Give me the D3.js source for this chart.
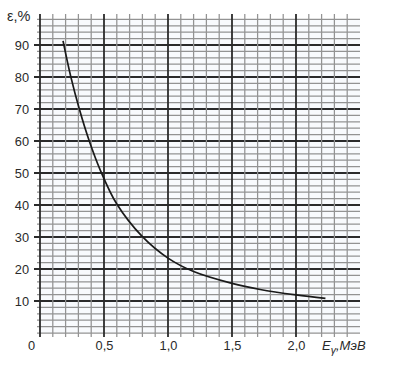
<!DOCTYPE html>
<html>
<head>
<meta charset="utf-8">
<script src="https://cdn.jsdelivr.net/npm/d3@7"></script>
<style>
  html, body { margin: 0; padding: 0; background: #ffffff; }
  svg { display: block; }
</style>
</head>
<body>
<svg id="chart" width="396" height="367"></svg>
<script>
// ---- data ----
const energy = [0.18, 0.24, 0.31, 0.385, 0.47, 0.6, 0.8, 1.0, 1.2, 1.5, 1.72, 2.0, 2.23];
const efficiency = [91.3, 80.2, 69.6, 60, 51, 40.3, 30.1, 23.4, 19.2, 15.5, 13.6, 11.9, 10.8];
const yTickValues = [10, 20, 30, 40, 50, 60, 70, 80, 90];
const xTickValues = [0, 0.5, 1.0, 1.5, 2.0];
const xTickLabels = ["0", "0,5", "1,0", "1,5", "2,0"];
const yAxisTitle = "ε,%";
const xAxisTitleMain = "E";
const xAxisTitleSub = "γ";
const xAxisTitleRest = ",МэВ";

// ---- layout ----
const svg = d3.select("#chart");
const x = d3.scaleLinear().domain([0, 2.5]).range([40, 360]);
const y = d3.scaleLinear().domain([0, 98]).range([333, 19.4]);

const minorColor = "#939393";
const majorColor = "#2b2b2b";
const textColor = "#2a2a2a";

// light paper fill
svg.append("rect")
  .attr("x", x(0)).attr("y", y(98))
  .attr("width", x(2.5) - x(0)).attr("height", y(0) - y(98))
  .attr("fill", "#f8fafd");

// horizontal grid lines every 2 %
const hVals = d3.range(0, 99, 2);
svg.append("g").selectAll("line").data(hVals).join("line")
  .attr("x1", d => (d % 10 === 0 && d > 0) ? x(0) - 6 : x(0) - 3)
  .attr("x2", x(2.5))
  .attr("y1", d => y(d)).attr("y2", d => y(d))
  .attr("stroke", d => (d % 10 === 0 && d > 0) ? majorColor : minorColor)
  .attr("stroke-width", d => (d % 10 === 0 && d > 0) ? 1.8 : 1.25);

// vertical grid lines every 0.1 MeV
const vVals = d3.range(1, 25).map(i => i / 10);
svg.append("g").selectAll("line").data(vVals).join("line")
  .attr("x1", d => x(d)).attr("x2", d => x(d))
  .attr("y1", 14).attr("y2", 337)
  .attr("stroke", d => (Math.round(d * 10) % 5 === 0) ? majorColor : minorColor)
  .attr("stroke-width", d => (Math.round(d * 10) % 5 === 0) ? 1.8 : 1.25);

// vertical axis line
svg.append("line")
  .attr("x1", x(0)).attr("x2", x(0))
  .attr("y1", 14).attr("y2", 337)
  .attr("stroke", majorColor).attr("stroke-width", 1.8);

// curve
const line = d3.line()
  .x((d, i) => x(energy[i]))
  .y((d, i) => y(efficiency[i]))
  .curve(d3.curveCatmullRom.alpha(0.5));
svg.append("path")
  .datum(energy)
  .attr("d", line)
  .attr("fill", "none")
  .attr("stroke", "#1a1a1a")
  .attr("stroke-width", 1.7);

// axes (labels only)
const font = "'Liberation Sans', Arial, sans-serif";
const yAxis = svg.append("g")
  .attr("transform", `translate(${x(0)},0)`)
  .call(d3.axisLeft(y).tickValues(yTickValues).tickSize(0).tickPadding(11).tickFormat(d3.format("d")));
yAxis.select(".domain").remove();
yAxis.selectAll("text")
  .attr("font-family", font).attr("font-size", 12.8).attr("fill", textColor);

const xAxis = svg.append("g")
  .attr("transform", `translate(0,${y(0)})`)
  .call(d3.axisBottom(x).tickValues(xTickValues).tickSize(0).tickPadding(7.5)
    .tickFormat((d, i) => xTickLabels[i]));
xAxis.select(".domain").remove();
xAxis.selectAll("text")
  .attr("font-family", font).attr("font-size", 12.8).attr("fill", textColor)
  .attr("dx", (d, i) => i === 0 ? -9 : 0);

// axis titles
svg.append("text")
  .attr("x", 7).attr("y", 21)
  .attr("font-family", font).attr("font-size", 14.5).attr("fill", textColor)
  .text(yAxisTitle);

const xt = svg.append("text")
  .attr("x", 322).attr("y", 350)
  .attr("font-family", font).attr("font-size", 13).attr("fill", textColor)
  .attr("font-style", "italic");
xt.append("tspan").text(xAxisTitleMain);
xt.append("tspan").attr("dy", 4).attr("font-size", 10.5).text(xAxisTitleSub);
xt.append("tspan").attr("dy", -4).text(xAxisTitleRest);
</script>
</body>
</html>
